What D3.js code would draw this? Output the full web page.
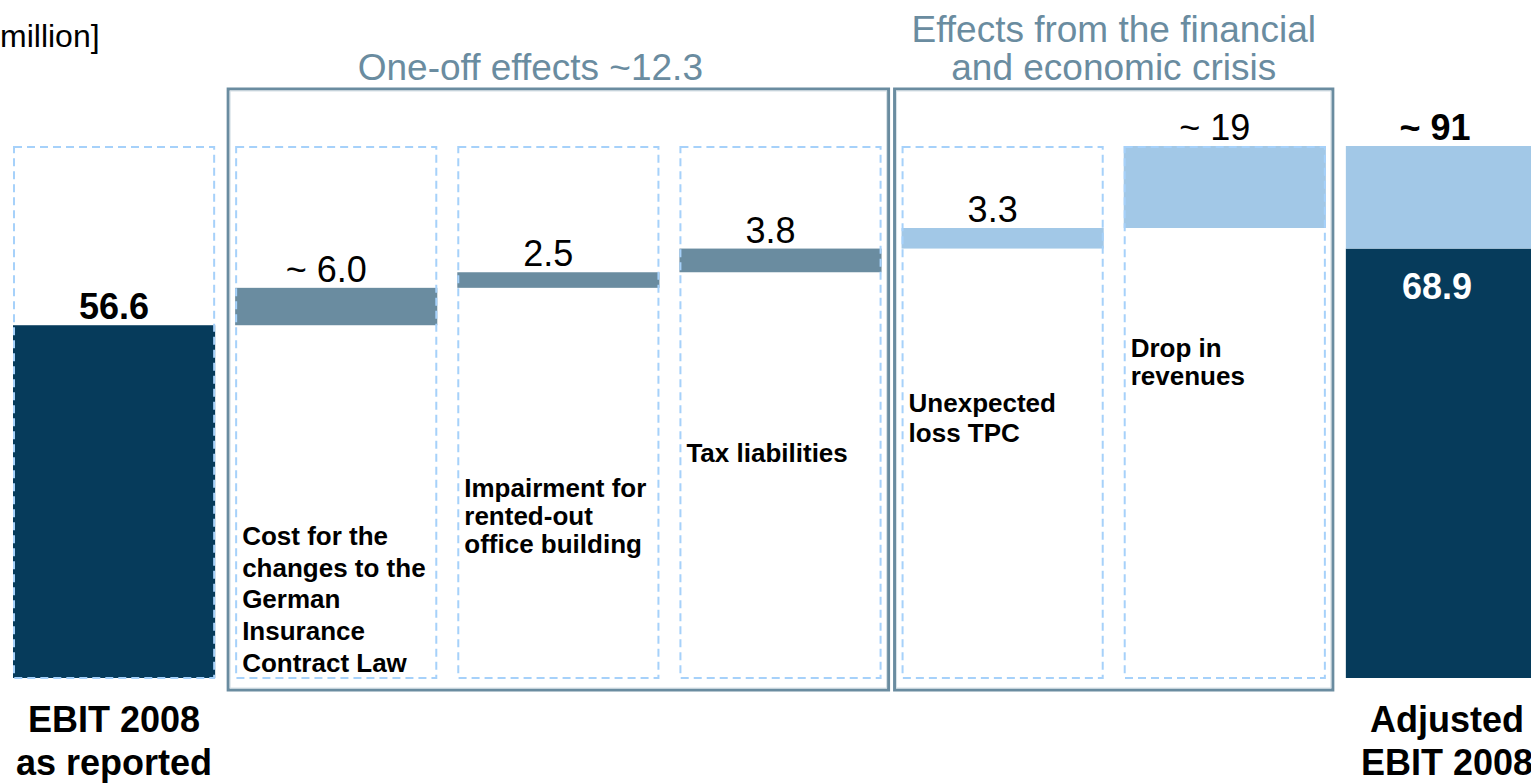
<!DOCTYPE html>
<html>
<head>
<meta charset="utf-8">
<script src="https://cdn.jsdelivr.net/npm/d3@7"></script>
<style>
  html, body { margin: 0; padding: 0; background: #fff; overflow: hidden; }
  svg { display: block; font-family: "Liberation Sans", Arial, Helvetica, sans-serif; }
</style>
</head>
<body>
<svg id="chart" width="1531" height="783"></svg>
<script>
// EBIT bridge 2008 (EUR million): reported EBIT, one-off effects, crisis effects, adjusted EBIT
const unitLabel = "million]";
const startLabel = ["EBIT 2008", "as reported"];
const endLabel = ["Adjusted", "EBIT 2008"];
const startValue = 56.6;

const stepNames = [
  ["Cost for the", "changes to the", "German", "Insurance", "Contract Law"],
  ["Impairment for", "rented-out", "office building"],
  ["Tax liabilities"],
  ["Unexpected", "loss TPC"],
  ["Drop in", "revenues"]
];
const stepValues = [6.0, 2.5, 3.8, 3.3, 19];
const stepApprox = [true, false, false, false, true];
const stepGroup  = ["oneoff", "oneoff", "oneoff", "crisis", "crisis"];

const groupIds = ["oneoff", "crisis"];
const groupTitles = {
  oneoff: (sum) => ["One-off effects ~" + sum.toFixed(1)],
  crisis: () => ["Effects from the financial", "and economic crisis"]
};

// ---- derived totals ----
const cumEnd = [];
stepValues.reduce((acc, v, i) => { cumEnd[i] = acc + v; return acc + v; }, startValue);
const total = cumEnd[cumEnd.length - 1];
const groupSum = id => d3.sum(stepValues.filter((v, i) => stepGroup[i] === id));
const adjustedBase = startValue + groupSum("oneoff");   // 68.9
const breakValue = cumEnd[cumEnd.length - 2];           // last step drawn compressed above this

// ---- colours ----
const NAVY = "#063b5b", SLATE = "#6a8ca0", LIGHT = "#a2c8e7", FRAME = "#a6d1fa";
const groupColor = { oneoff: SLATE, crisis: LIGHT };

// ---- scales ----
const svg = d3.select("#chart");
const colIds = ["start"].concat(stepValues.map((d, i) => "s" + i), ["end"]);
const x = d3.scaleBand().domain(colIds).range([13, 1548]).paddingInner(0.09).paddingOuter(0);
const bw = x.bandwidth();
const y = d3.scaleLinear().domain([0, breakValue, total]).range([678, 228, 146]);

// ---- group boxes ----
const groupLayout = { oneoff: { titleDx: -28 }, crisis: { titleDx: 0 } };
groupIds.forEach(g => {
  const idx = stepGroup.map((s, i) => s === g ? i : -1).filter(i => i >= 0);
  const x0 = x("s" + idx[0]) - 7;
  const x1 = x("s" + idx[idx.length - 1]) + bw + 7;
  const top = 89, bottom = y(0) + 12;
  svg.append("rect")
    .attr("x", x0).attr("y", top).attr("width", x1 - x0).attr("height", bottom - top)
    .attr("fill", "none").attr("stroke", SLATE).attr("stroke-width", 3);
  svg.append("rect")
    .attr("x", x0 + 2).attr("y", top + 2).attr("width", x1 - x0 - 4).attr("height", bottom - top - 4)
    .attr("fill", "none").attr("stroke", "#d6e0e6").attr("stroke-width", 1);
  const lines = groupTitles[g](groupSum(g));
  const cx = (x0 + x1) / 2 + groupLayout[g].titleDx;
  const t = svg.append("text")
    .attr("x", cx).attr("text-anchor", "middle")
    .attr("font-size", 37).attr("fill", SLATE);
  lines.forEach((ln, i) => {
    t.append("tspan").attr("x", cx)
      .attr("y", 80 - (lines.length - 1 - i) * 38)
      .text(ln);
  });
});

// ---- bars ----
// reported EBIT
svg.append("rect")
  .attr("x", x("start")).attr("width", bw)
  .attr("y", y(startValue)).attr("height", y(0) - y(startValue))
  .attr("fill", NAVY);

// floating steps
svg.selectAll("rect.step").data(stepValues).join("rect")
  .attr("class", "step")
  .attr("x", (d, i) => x("s" + i)).attr("width", bw)
  .attr("y", (d, i) => y(cumEnd[i]))
  .attr("height", (d, i) => y(cumEnd[i] - d) - y(cumEnd[i]))
  .attr("fill", (d, i) => groupColor[stepGroup[i]]);

// adjusted EBIT: base plus crisis effects stacked on top
svg.append("rect")
  .attr("x", x("end")).attr("width", bw)
  .attr("y", y(adjustedBase)).attr("height", y(0) - y(adjustedBase))
  .attr("fill", NAVY);
svg.append("rect")
  .attr("x", x("end")).attr("width", bw)
  .attr("y", y(total)).attr("height", y(adjustedBase) - y(total))
  .attr("fill", LIGHT);

// dashed column frames over the reported and step columns
colIds.slice(0, -1).forEach(id => {
  svg.append("rect")
    .attr("x", x(id) + 1).attr("width", bw - 2)
    .attr("y", y(total) + 1).attr("height", y(0) - y(total) - 1)
    .attr("fill", "none").attr("stroke", FRAME).attr("stroke-width", 2)
    .attr("stroke-dasharray", "8,5");
});

// ---- value labels ----
const fmt = d3.format(".1f");
svg.append("text")
  .attr("x", x("start") + bw / 2).attr("y", y(startValue) - 6)
  .attr("text-anchor", "middle").attr("font-size", 36).attr("font-weight", "bold")
  .attr("fill", "#000").text(fmt(startValue));

svg.selectAll("text.val").data(stepValues).join("text")
  .attr("class", "val")
  .attr("x", (d, i) => x("s" + i) + bw / 2 - 10)
  .attr("y", (d, i) => y(cumEnd[i]) - 6)
  .attr("text-anchor", "middle").attr("font-size", 36).attr("fill", "#000")
  .text((d, i) => (stepApprox[i] ? "~ " : "") + (Number.isInteger(d) && stepApprox[i] && d >= 10 ? d : fmt(d)));

svg.append("text")
  .attr("x", x("end") + bw / 2 - 12).attr("y", y(total) - 6)
  .attr("text-anchor", "middle").attr("font-size", 36).attr("font-weight", "bold")
  .attr("fill", "#000").text("~ " + Math.round(total));

svg.append("text")
  .attr("x", x("end") + bw / 2 - 10).attr("y", y(adjustedBase) + 50)
  .attr("text-anchor", "middle").attr("font-size", 36).attr("font-weight", "bold")
  .attr("fill", "#fff").text(fmt(adjustedBase));

// ---- step descriptions ----
const descLayout = [
  { y: 545, lh: 31.7 },
  { y: 497, lh: 28 },
  { y: 462, lh: 28 },
  { y: 412, lh: 30 },
  { y: 357, lh: 28 }
];
stepNames.forEach((lines, i) => {
  const tx = x("s" + i) + 7;
  const t = svg.append("text")
    .attr("font-size", 26).attr("font-weight", "bold").attr("fill", "#000");
  lines.forEach((ln, j) => {
    t.append("tspan").attr("x", tx).attr("y", descLayout[i].y + j * descLayout[i].lh).text(ln);
  });
});

// ---- column captions ----
[["start", startLabel], ["end", endLabel]].forEach(([id, lines]) => {
  const cx = x(id) + bw / 2;
  const t = svg.append("text")
    .attr("text-anchor", "middle").attr("font-size", 36).attr("font-weight", "bold").attr("fill", "#000");
  lines.forEach((ln, j) => {
    t.append("tspan").attr("x", cx).attr("y", 732 + j * 43).text(ln);
  });
});

// ---- unit note ----
svg.append("text")
  .attr("x", 0).attr("y", 47)
  .attr("font-size", 32).attr("fill", "#000")
  .text(unitLabel);
</script>
</body>
</html>
